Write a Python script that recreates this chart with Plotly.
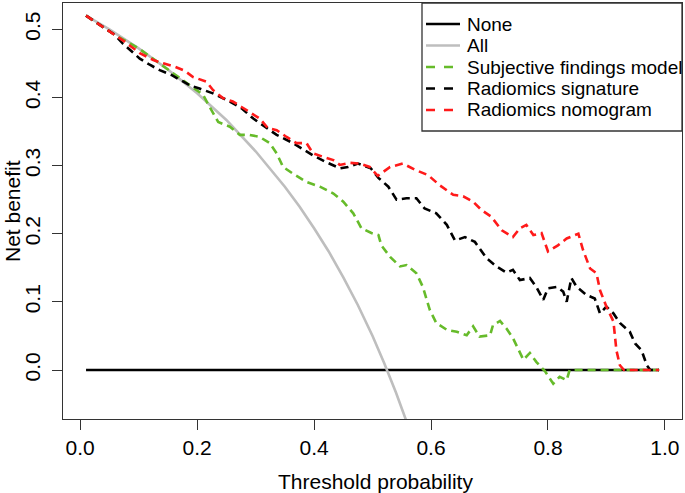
import plotly.graph_objects as go

# ---------------- data ----------------
none_x = [0.01, 0.99]
none_y = [0.0, 0.0]

all_x = [0.01, 0.05, 0.10, 0.15, 0.20, 0.25, 0.30, 0.35, 0.375, 0.40, 0.425, 0.45, 0.475, 0.50, 0.52, 0.54, 0.56]
all_y = [0.520, 0.500, 0.472, 0.441, 0.406, 0.367, 0.321, 0.269, 0.240, 0.208, 0.174, 0.136, 0.095, 0.050, 0.010, -0.033, -0.080]

subj_x = [0.01, 0.059, 0.10, 0.15, 0.187, 0.210, 0.224, 0.236, 0.256, 0.273, 0.290, 0.307, 0.324, 0.336,
          0.347, 0.364, 0.387, 0.410, 0.433, 0.450, 0.467, 0.481, 0.498, 0.510, 0.515, 0.530, 0.547, 0.558,
          0.575, 0.586, 0.598, 0.609, 0.627, 0.644, 0.661, 0.672, 0.683, 0.701, 0.706, 0.718, 0.729, 0.740,
          0.758, 0.769, 0.780, 0.795, 0.809, 0.820, 0.832, 0.837, 0.99]
subj_y = [0.520, 0.492, 0.472, 0.441, 0.418, 0.404, 0.382, 0.364, 0.357, 0.345, 0.345, 0.342, 0.333, 0.318,
          0.298, 0.288, 0.276, 0.269, 0.259, 0.247, 0.230, 0.208, 0.201, 0.198, 0.183, 0.166, 0.152, 0.154,
          0.142, 0.122, 0.088, 0.069, 0.059, 0.056, 0.051, 0.064, 0.049, 0.051, 0.066, 0.072, 0.061, 0.047,
          0.015, 0.025, 0.012, -0.002, -0.020, -0.010, -0.015, 0.0, 0.0]

sig_x = [0.01, 0.059, 0.073, 0.102, 0.119, 0.136, 0.156, 0.170, 0.187, 0.204, 0.227, 0.256, 0.276, 0.296,
         0.319, 0.336, 0.364, 0.387, 0.398, 0.421, 0.444, 0.458, 0.475, 0.497, 0.510, 0.527, 0.541, 0.558,
         0.575, 0.589, 0.609, 0.627, 0.641, 0.658, 0.675, 0.695, 0.712, 0.729, 0.740, 0.752, 0.769, 0.780,
         0.792, 0.800, 0.815, 0.826, 0.832, 0.840, 0.849, 0.866, 0.880, 0.889, 0.900, 0.912, 0.923, 0.940,
         0.949, 0.960, 0.969, 0.975, 0.99]
sig_y = [0.520, 0.492, 0.479, 0.457, 0.448, 0.440, 0.433, 0.426, 0.418, 0.413, 0.406, 0.394, 0.384, 0.369,
         0.355, 0.345, 0.333, 0.320, 0.315, 0.305, 0.296, 0.298, 0.303, 0.296, 0.282, 0.269, 0.250, 0.252,
         0.252, 0.237, 0.230, 0.213, 0.190, 0.195, 0.188, 0.164, 0.152, 0.143, 0.147, 0.132, 0.135, 0.122,
         0.103, 0.120, 0.122, 0.115, 0.100, 0.135, 0.122, 0.110, 0.105, 0.083, 0.093, 0.083, 0.069, 0.056,
         0.039, 0.029, 0.007, 0.0, 0.0]

nomo_x = [0.01, 0.059, 0.076, 0.102, 0.125, 0.142, 0.162, 0.179, 0.193, 0.216, 0.227, 0.244, 0.261, 0.276,
          0.293, 0.307, 0.321, 0.336, 0.353, 0.370, 0.387, 0.398, 0.415, 0.433, 0.444, 0.461, 0.478, 0.495,
          0.509, 0.530, 0.552, 0.572, 0.595, 0.615, 0.638, 0.655, 0.672, 0.686, 0.703, 0.721, 0.740, 0.752,
          0.763, 0.775, 0.789, 0.800, 0.817, 0.832, 0.852, 0.860, 0.872, 0.883, 0.889, 0.900, 0.912, 0.917,
          0.923, 0.930, 0.99]
nomo_y = [0.520, 0.492, 0.482, 0.465, 0.455, 0.450, 0.445, 0.439, 0.430, 0.423, 0.411, 0.399, 0.394, 0.386,
          0.377, 0.369, 0.355, 0.352, 0.342, 0.333, 0.333, 0.318, 0.313, 0.308, 0.301, 0.304, 0.303, 0.298,
          0.285, 0.298, 0.303, 0.294, 0.286, 0.271, 0.257, 0.255, 0.247, 0.235, 0.225, 0.205, 0.195, 0.208,
          0.213, 0.198, 0.201, 0.174, 0.183, 0.193, 0.200, 0.176, 0.149, 0.142, 0.117, 0.093, 0.071, 0.029,
          0.007, 0.0, 0.0]

x_ticks = [0.0, 0.2, 0.4, 0.6, 0.8, 1.0]
x_tick_text = ["0.0", "0.2", "0.4", "0.6", "0.8", "1.0"]
y_ticks = [0.0, 0.1, 0.2, 0.3, 0.4, 0.5]
y_tick_text = ["0.0", "0.1", "0.2", "0.3", "0.4", "0.5"]

legend_labels = ["None", "All", "Subjective findings model", "Radiomics signature", "Radiomics nomogram"]

# ---------------- styles ----------------
FONT = "Liberation Sans, Arial, Helvetica, sans-serif"
C_NONE = "#000000"
C_ALL = "#BEBEBE"
C_SUBJ = "#66BB2A"
C_SIG = "#000000"
C_NOMO = "#FF1A1A"
DASH = "8px,5px"
LW = 2.6

W, H = 685, 493
ML, MR, MT, MB = 63, 3, 3, 74
PW, PH = W - ML - MR, H - MT - MB


def px2paper_x(px):
    return (px - ML) / PW


def px2paper_y(py):
    return (H - MB - py) / PH


fig = go.Figure()
series = [
    (none_x, none_y, C_NONE, "solid"),
    (all_x, all_y, C_ALL, "solid"),
    (subj_x, subj_y, C_SUBJ, DASH),
    (sig_x, sig_y, C_SIG, DASH),
    (nomo_x, nomo_y, C_NOMO, DASH),
]
for (xs, ys, col, dash), name in zip(series, legend_labels):
    fig.add_trace(go.Scatter(x=xs, y=ys, mode="lines", name=name, showlegend=False,
                             line=dict(color=col, width=LW, dash=dash)))

# ---------------- manual legend (R style) ----------------
shapes = []
annotations = []
shapes.append(dict(type="rect", xref="paper", yref="paper",
                   x0=px2paper_x(422), x1=1.0, y0=px2paper_y(131), y1=1.0,
                   line=dict(color="#333333", width=1.3), fillcolor="rgba(0,0,0,0)", layer="above"))
row_y = [24, 45.5, 67, 88.5, 110]
for (xs, ys, col, dash), name, ry in zip(series, legend_labels, row_y):
    shapes.append(dict(type="line", xref="paper", yref="paper",
                       x0=px2paper_x(426), x1=px2paper_x(460),
                       y0=px2paper_y(ry), y1=px2paper_y(ry),
                       line=dict(color=col, width=LW, dash=("solid" if dash == "solid" else "dash")),
                       layer="above"))
    annotations.append(dict(xref="paper", yref="paper", x=px2paper_x(465), y=px2paper_y(ry),
                            xanchor="left", yanchor="middle", text=name, showarrow=False,
                            font=dict(family=FONT, size=19, color="#000000")))

# axis titles
annotations.append(dict(xref="paper", yref="paper", x=0.5, y=0, yshift=-62, xshift=3,
                        xanchor="center", yanchor="middle", text="Threshold probability",
                        showarrow=False, font=dict(family=FONT, size=21, color="#000000")))
annotations.append(dict(xref="paper", yref="paper", x=0, y=0.5, xshift=-51,
                        xanchor="center", yanchor="middle", text="Net benefit", textangle=-90,
                        showarrow=False, font=dict(family=FONT, size=21, color="#000000")))

fig.update_layout(
    width=W, height=H,
    margin=dict(l=ML, r=MR, t=MT, b=MB, pad=0),
    paper_bgcolor="white", plot_bgcolor="white",
    font=dict(family=FONT, size=21, color="#000000"),
    shapes=shapes, annotations=annotations,
    showlegend=False,
)
fig.update_xaxes(range=[-0.0294, 1.0292], showgrid=False, zeroline=False,
                 tickmode="array", tickvals=x_ticks, ticktext=x_tick_text,
                 ticks="outside", ticklen=10, tickwidth=1.3, tickcolor="#333333",
                 showline=True, linecolor="#333333", linewidth=1.3, mirror=True,
                 tickfont=dict(family=FONT, size=21, color="#000000"))
fig.update_yaxes(range=[-0.0719, 0.5386], showgrid=False, zeroline=False,
                 tickmode="array", tickvals=y_ticks, ticktext=y_tick_text,
                 ticks="outside", ticklen=10, tickwidth=1.3, tickcolor="#333333",
                 showline=True, linecolor="#333333", linewidth=1.3, mirror=True,
                 tickangle=-90, ticklabelstandoff=3,
                 tickfont=dict(family=FONT, size=21, color="#000000"))

fig.write_html("out.html", config={"displayModeBar": False},
               post_script="document.body.style.margin='0';document.body.style.overflow='hidden';")
